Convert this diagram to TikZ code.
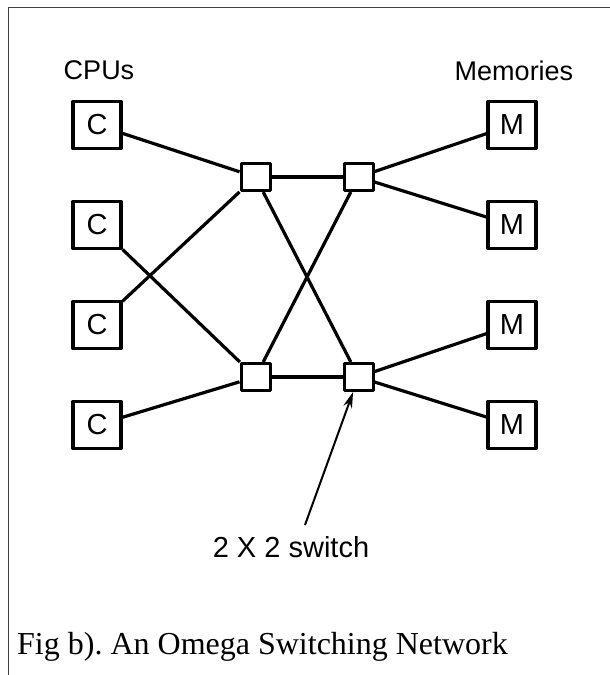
\documentclass[tikz,border=0pt]{standalone}
\usepackage{fontspec}
\setmainfont{Liberation Serif}
\setsansfont{Liberation Sans}
\usetikzlibrary{arrows.meta,positioning}
\tikzset{unit/.style={draw,line width=3.2pt,minimum width=48pt,minimum height=47pt,inner sep=0pt,font=\sffamily\fontsize{29}{32}\selectfont},
  sw/.style={draw,line width=3pt,minimum width=29pt,minimum height=27pt,inner sep=0pt},
  link/.style={line width=3.2pt},
  lbl/.style={anchor=base,font=\sffamily\fontsize{27}{30}\selectfont}}

\begin{document}
\begin{tikzpicture}[x=1pt,y=-1pt,>={Stealth[length=16pt,width=9pt]},line join=round]
\useasboundingbox (0,0) rectangle (610,675);
% --- frame
\draw[line width=1.4pt,black!75] (8.5,675) -- (8.5,7.5) -- (610,7.5);
% --- CPUs and memories
\foreach \i/\y in {1/125,2/225,3/325,4/425}{
  \node[unit] (c\i) at (97,\y) {C};
  \node[unit] (m\i) at (512,\y) {M};
}
\node[lbl] (cpus) at (99,79) {CPUs};
\node[lbl] (mems) at (514,80) {Memories};
% --- 2x2 switches
\node[sw] (s11) at (255.5,177) {}; \node[sw] (s12) at (358.5,177) {};
\node[sw] (s21) at (255.5,377) {}; \node[sw] (s22) at (358.5,377) {};
% --- links
\draw[link] (c1) -- (s11); \draw[link] (c3) -- (s11);
\draw[link] (c2) -- (s21); \draw[link] (c4) -- (s21);
\draw[link] (s11) -- (s12); \draw[link] (s11) -- (s22);
\draw[link] (s21) -- (s12); \draw[link] (s21) -- (s22);
\draw[link] (s12) -- (m1); \draw[link] (s12) -- (m2);
\draw[link] (s22) -- (m3); \draw[link] (s22) -- (m4);
% --- pointer to a switch
\node[lbl,font=\sffamily\fontsize{29}{32}\selectfont] (swlbl) at (291,557) {2 X 2 switch};
\coordinate (tail) at (305,525);
\draw[->,line width=2pt] (tail) -- (s22);
% --- caption
\node[anchor=base west,inner sep=0pt,font=\fontsize{32}{38}\selectfont] (capt) at (17,654) {Fig b).\ An Omega Switching Network};
\end{tikzpicture}
\end{document}
